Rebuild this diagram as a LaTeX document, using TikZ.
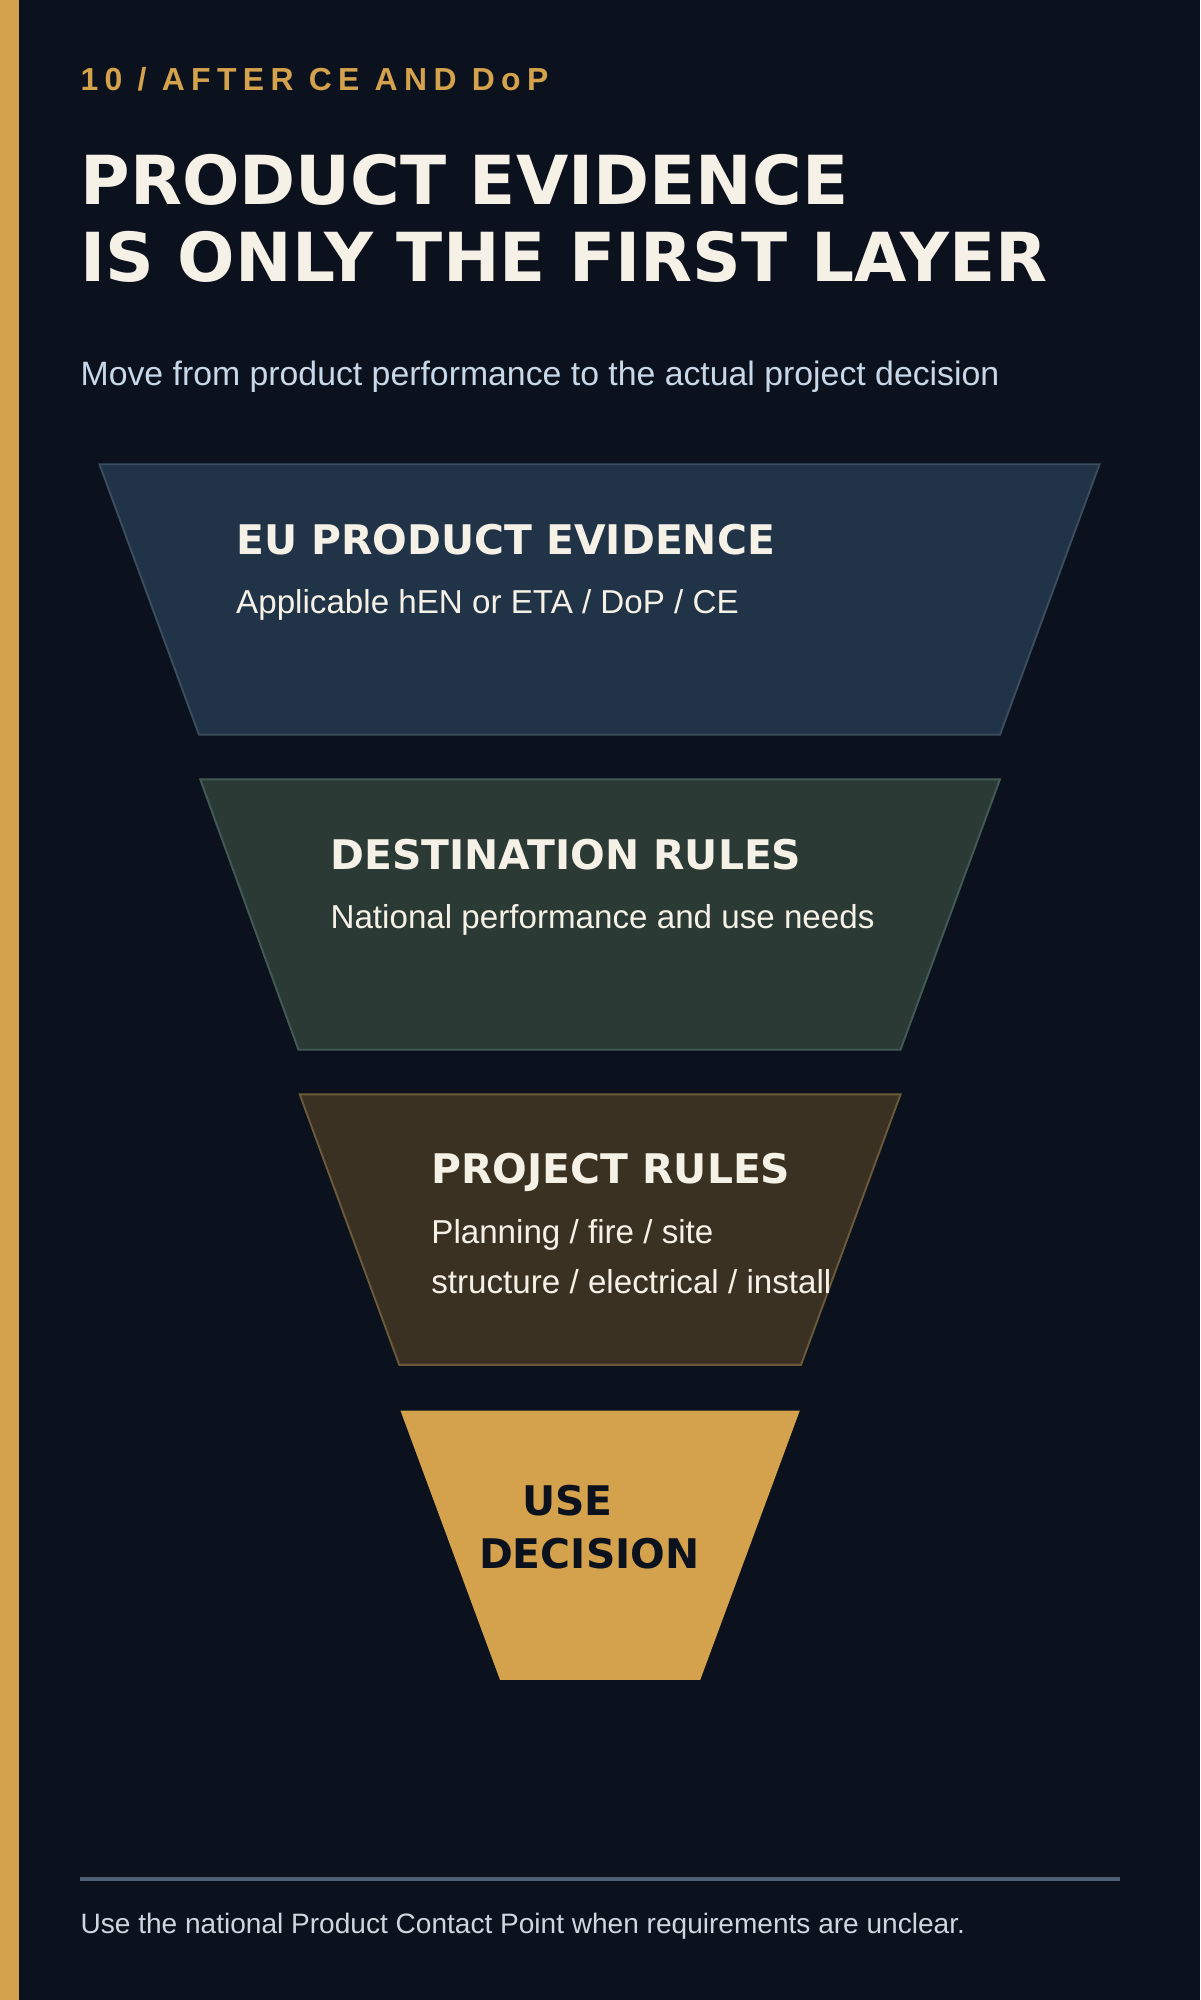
\documentclass[tikz,border=0pt]{standalone}
\usepackage{fontspec}
\setmainfont{Liberation Sans}
\newfontfamily\heavy{DejaVu Sans}
\begin{document}
\begin{tikzpicture}[x=1pt,y=-1pt,
  t/.style={anchor=base west,inner sep=0pt},
  head/.style={t,text=cream,font=\heavy\bfseries\fontsize{32}{36}\selectfont},
  sub/.style={t,text=cream,font=\fontsize{26}{39}\selectfont},
  trap/.style={line width=1.5pt}]
\definecolor{bg}{HTML}{0B111D}
\definecolor{gold}{HTML}{D4A24C}
\definecolor{cream}{HTML}{F6F1E7}
\useasboundingbox (0,0) rectangle (941,1568);
\fill[bg] (0,0) rectangle (941,1568);
\fill[gold] (0,0) rectangle (15,1568);
\node[t,text=gold,font=\bfseries\fontsize{25}{26}\selectfont\addfontfeatures{LetterSpace=20}] (kick) at (63,71) {10 / AFTER CE AND DoP};
\node[t,text=cream,font=\heavy\bfseries\fontsize{53}{61}\selectfont] (title1) at (63,160) {PRODUCT EVIDENCE};
\node[t,text=cream,font=\heavy\bfseries\fontsize{53}{61}\selectfont] (title2) at (63,221) {IS ONLY THE FIRST LAYER};
\node[t,text={rgb,255:red,200;green,216;blue,232},font=\fontsize{26.5}{28}\selectfont] (lead) at (63,302) {Move from product performance to the actual project decision};
\draw[trap,fill={rgb,255:red,33;green,51;blue,71},draw={rgb,255:red,58;green,78;blue,94}] (78,364)--(862,364)--(784,576)--(156,576)--cycle;
\node[head] (h1) at (185,435) {EU PRODUCT EVIDENCE};
\node[sub] (s1) at (185,481) {Applicable hEN or ETA / DoP / CE};
\draw[trap,fill={rgb,255:red,44;green,58;blue,54},draw={rgb,255:red,66;green,90;blue,84}] (157,611)--(784,611)--(706,823)--(234,823)--cycle;
\node[head] (h2) at (259,682) {DESTINATION RULES};
\node[sub] (s2) at (259,728) {National performance and use needs};
\draw[trap,fill={rgb,255:red,59;green,49;blue,35},draw={rgb,255:red,107;green,90;blue,58}] (235,858)--(706,858)--(628,1070)--(313,1070)--cycle;
\node[head] (h3) at (338,928) {PROJECT RULES};
\node[sub] (s3a) at (338,975) {Planning / fire / site};
\node[sub] (s3b) at (338,1014) {structure / electrical / install};
\fill[gold] (314,1106)--(627,1106)--(549,1317)--(392,1317)--cycle;
\node[anchor=base,inner sep=0pt,text=bg,font=\heavy\bfseries\fontsize{32}{36}\selectfont] (h4a) at (445,1188) {USE};
\node[anchor=base,inner sep=0pt,text=bg,font=\heavy\bfseries\fontsize{32}{36}\selectfont] (h4b) at (462,1230) {DECISION};
\draw[line width=3pt,color={rgb,255:red,79;green,95;blue,115}] (63,1473) -- (878,1473);
\node[t,text={rgb,255:red,208;green,214;blue,222},font=\fontsize{22}{24}\selectfont] (foot) at (63,1516) {Use the national Product Contact Point when requirements are unclear.};
\end{tikzpicture}
\end{document}
